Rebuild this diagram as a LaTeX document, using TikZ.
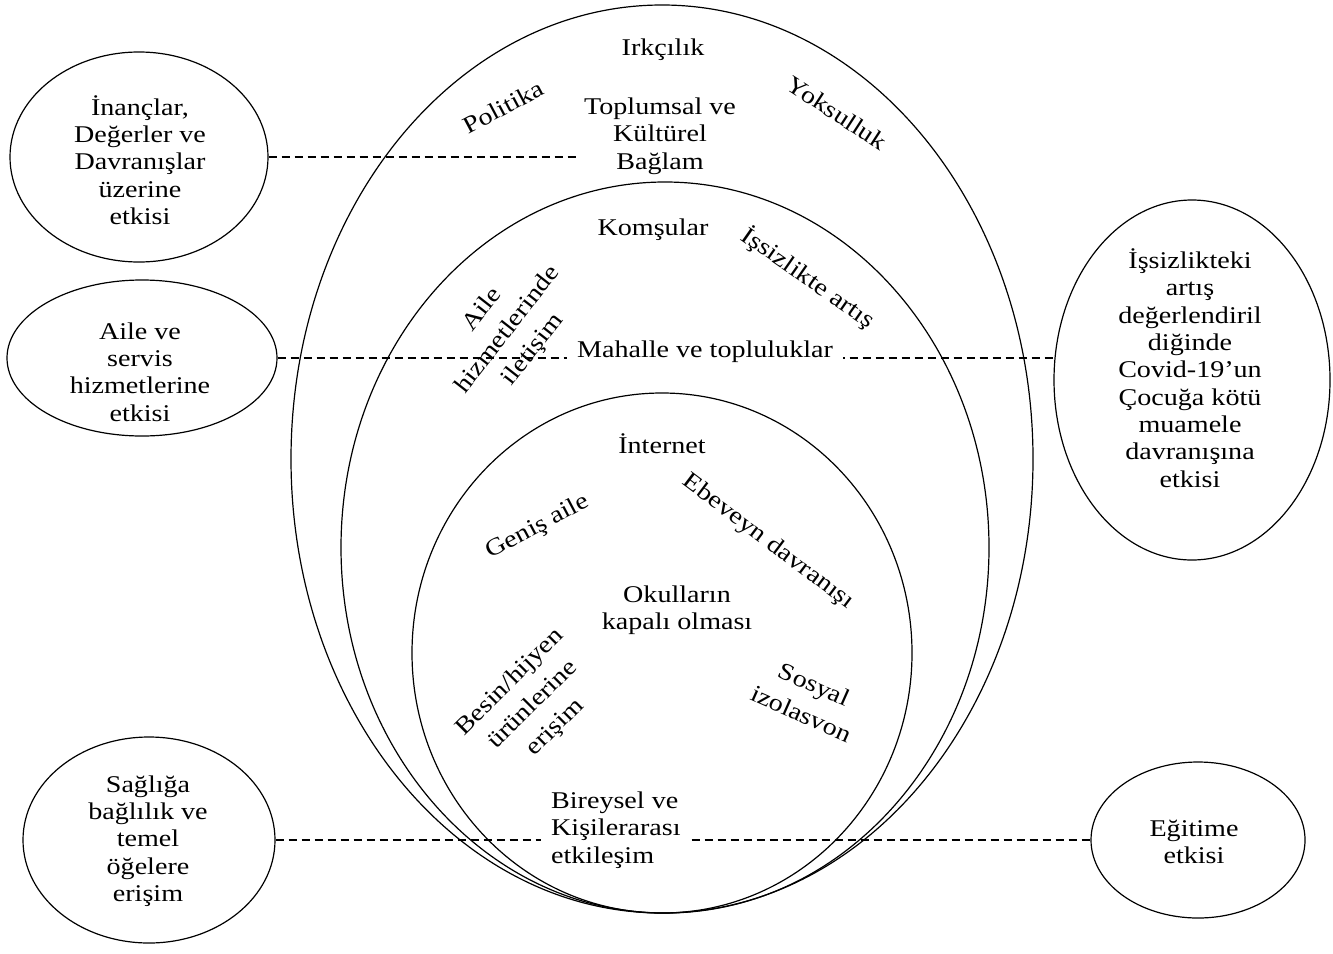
\documentclass[tikz,border=0pt]{standalone}
\usepackage{fontspec}
\setmainfont{Liberation Serif}[FakeStretch=1.17]
\usetikzlibrary{shapes.geometric}

\tikzset{every picture/.style={line width=0.75pt}}
\tikzset{
  bubble/.style={draw, ellipse, line width=0.9pt, inner sep=0pt},
  ring/.style={line width=0.9pt},
  linkline/.style={dash pattern=on 6pt off 3.75pt, line width=0.8pt},
  lbl/.style={align=center, font=\fontsize{18}{20.5}\selectfont},
  tiltlbl/.style={lbl, font=\fontsize{18}{24}\selectfont},
}

\begin{document}
\begin{tikzpicture}[x=0.75pt,y=0.75pt,yscale=-1,xscale=1]
	\useasboundingbox (0,0) rectangle (1333,953);

	%Nested contexts
	\draw [ring] (662,459) ellipse [x radius=371, y radius=454];
	\draw [ring] (665,547.5) ellipse [x radius=324, y radius=365.5];
	\draw [ring] (662,653) ellipse [x radius=250, y radius=260];

	%Outer bubbles
	\node [bubble, minimum width=193.5pt, minimum height=157.5pt] (inanc) at (139,157) {};
	\node [bubble, minimum width=202.5pt, minimum height=117pt] (aile) at (142,358) {};
	\node [bubble, minimum width=207pt, minimum height=270pt] (issiz) at (1192,380) {};
	\node [bubble, minimum width=189pt, minimum height=154.5pt] (saglik) at (149,840) {};
	\node [bubble, minimum width=160.5pt, minimum height=117pt] (egitim) at (1198,840) {};

	% Text Node
	\node [lbl] (toplum) at (660,136) {Toplumsal ve\\Kültürel\\Bağlam};

	%Dashed links
	\draw [linkline] (inanc.east) -- (inanc.east -| toplum.west);
	\draw [linkline] (aile.east) -- (aile.east -| issiz.west);
	\draw [linkline] (saglik.east) -- (egitim.west);

	% Text Node
	\node [lbl] (irk) at (663,50) {Irkçılık};
	\node [lbl, rotate=28] (politika) at (503,107) {Politika};
	\node [lbl, rotate=-33] (yoksul) at (837,113) {Yoksulluk};
	\node [lbl] (komsu) at (653,230) {Komşular};
	\node [lbl, rotate=-35] (issizart) at (808,278) {İşsizlikte artış};
	\node [tiltlbl, rotate=52] (ailehiz) at (508,330) {Aile\\hizmetlerinde\\iletişim};
	\node [lbl, fill=white, inner xsep=7.5pt, inner ysep=1pt] (mahalle) at (705,352) {Mahalle ve topluluklar};
	\node [lbl] (internet) at (662,444) {İnternet};
	\node [lbl, rotate=28] (genis) at (538,527) {Geniş aile};
	\node [lbl, rotate=-37] (ebeveyn) at (768,542) {Ebeveyn davranışı};
	\node [lbl] (okul) at (677,610) {Okulların\\kapalı olması};
	\node [tiltlbl, rotate=45] (besin) at (533,705) {Besin/hijyen\\ürünlerine\\erişim};
	\node [tiltlbl, rotate=-24] (sosyal) at (808,699) {Sosyal\\izolasvon};
	\node [lbl, align=left, anchor=west, fill=white, inner xsep=8pt, inner ysep=1pt] (bireysel) at (540,830) {Bireysel ve\\Kişilerarası\\etkileşim};

	% Bubble texts
	\node [lbl] (inanctxt) at (140,160) {İnançlar,\\Değerler ve\\Davranışlar\\üzerine\\etkisi};
	\node [lbl] (ailetxt) at (140,372) {Aile ve\\servis\\hizmetlerine\\etkisi};
	\node [lbl] (issiztxt) at (1190,368) {İşsizlikteki\\artış\\değerlendiril\\diğinde\\Covid-19’un\\Çocuğa kötü\\muamele\\davranışına\\etkisi};
	\node [lbl] (sagliktxt) at (148,841) {Sağlığa\\bağlılık ve\\temel\\öğelere\\erişim};
	\node [lbl] (egitimtxt) at (1194,842) {Eğitime\\etkisi};

\end{tikzpicture}
\end{document}
